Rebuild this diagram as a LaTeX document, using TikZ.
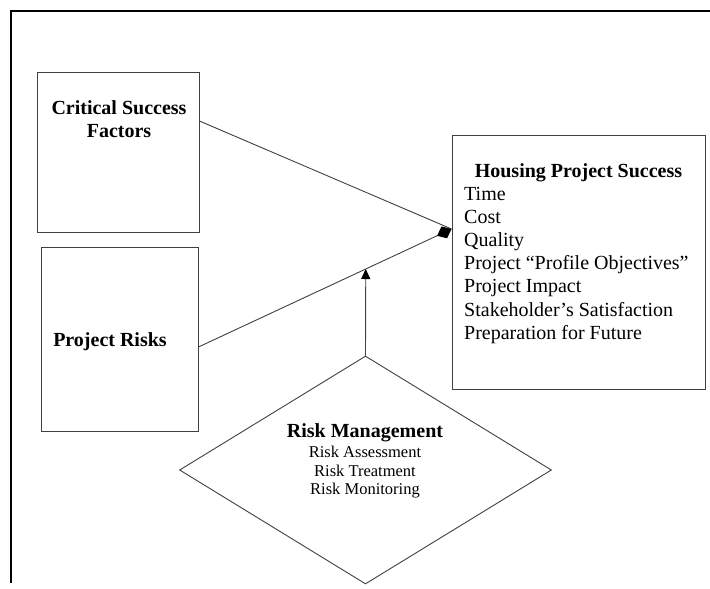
\documentclass[tikz,border=0pt]{standalone}
\usepackage{fontspec}
\setmainfont{Liberation Serif}
\usetikzlibrary{arrows.meta,shapes.geometric,calc}
\begin{document}
\begin{tikzpicture}[x=1pt, y=-1pt,
  frame/.style={line width=1.2pt, black},
  box/.style={draw=black!75, line width=.9pt, inner sep=0pt},
  big/.style={font=\fontsize{20}{23}\selectfont, inner sep=0pt},
  bigbf/.style={font=\fontsize{20}{23}\selectfont\bfseries, inner sep=0pt},
  small/.style={font=\fontsize{16.5}{18.5}\selectfont, inner sep=0pt},
  link/.style={draw=black!75, line width=.9pt}]
\useasboundingbox (0,0) rectangle (710,589);
\draw[frame](710,11)--(11,11)--(11,583);
% boxes
\node[box, minimum width=162pt, minimum height=160pt](csf) at (118,152){};
\node[box, minimum width=157pt, minimum height=184pt](pr) at (119.5,339){};
\node[box, minimum width=253pt, minimum height=254pt](hps) at (578.5,262){};
\node[box, diamond, minimum width=372pt, minimum height=228pt](rm) at (365.5,470){};
% texts
\node[bigbf, anchor=base](csft) at (119,114){Critical Success};
\node[bigbf, anchor=base](csfb) at (119,137){Factors};
\node[bigbf, anchor=base](prt) at (110,346){Project Risks};
\node[bigbf, anchor=base](hpst) at (578.5,177){Housing Project Success};
\foreach \t [count=\i from 0] in {Time, Cost, Quality, Project “Profile Objectives”,
  Project Impact, Stakeholder’s Satisfaction, Preparation for Future}
  \node[big, anchor=base west](hps\i) at (464,200+23.2*\i){\t};
\node[bigbf, anchor=base](rmt) at (365,437){Risk Management};
\foreach \t [count=\i from 0] in {Risk Assessment, Risk Treatment, Risk Monitoring}
  \node[small, anchor=base](rm\i) at (365,457.5+18.5*\i){\t};
% connectors
\coordinate(csfout) at ([yshift=31pt]csf.east);
\coordinate(prout) at ([yshift=-8pt]pr.east);
\coordinate(join) at ([yshift=33pt]hps.west);
\coordinate(hit) at ($(prout)!.661!(join)$);
\draw[link](csfout)--(join);
\draw[link, -{Diamond[length=16pt, width=13pt, color=black, fill=black]}](prout)--(join);
\draw[link, -{Triangle[length=10pt, width=9pt, color=black, fill=black]}](rm.north)--(hit);
\end{tikzpicture}
\end{document}
